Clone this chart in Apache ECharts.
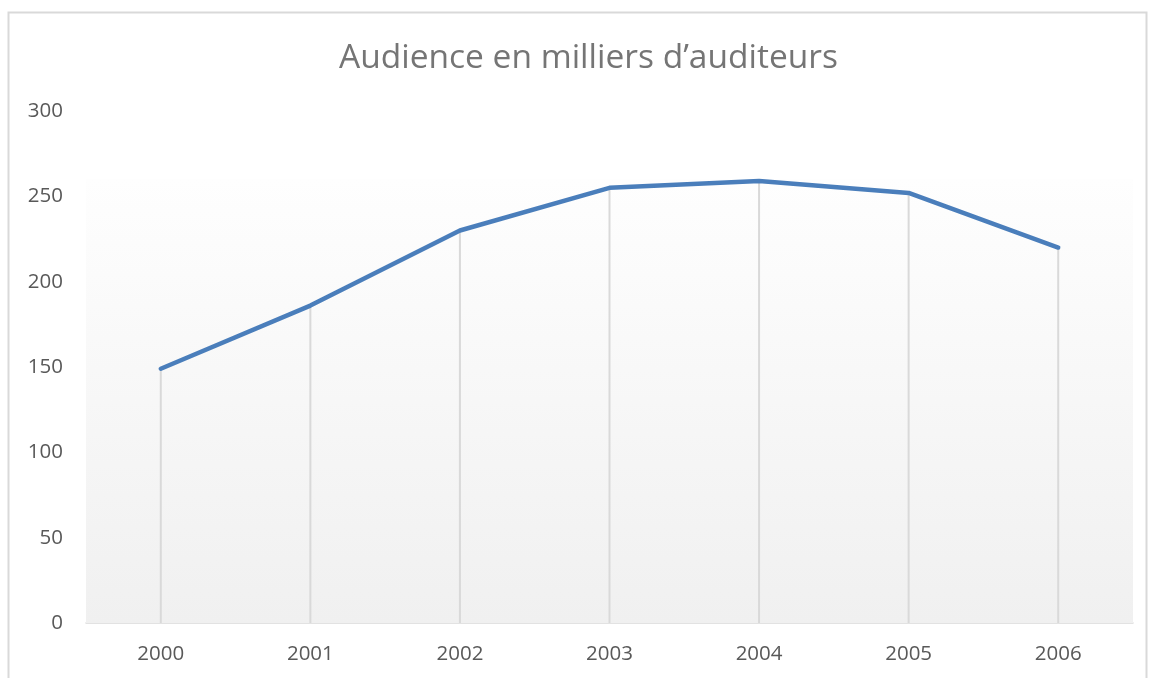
<!DOCTYPE html>
<html>
<head>
<meta charset="utf-8">
<script src="https://cdn.jsdelivr.net/npm/echarts@6/dist/echarts.min.js"></script>
<style>
  html, body { margin: 0; padding: 0; background: #fff; }
  #chart { width: 1149px; height: 678px; }
</style>
</head>
<body>
<div id="chart"></div>
<script>
var years = ['2000', '2001', '2002', '2003', '2004', '2005', '2006']
var audience = [149, 186, 230, 255, 259, 252, 220]
var yTicks = { min: 0, max: 300, interval: 50 }
var titleText = 'Audience en milliers d\u2019auditeurs'

var chart = echarts.init(document.getElementById('chart'))
chart.setOption({
  animation: false,
  textStyle: { fontFamily: 'Open Sans' },
  title: {
    text: titleText,
    left: 334,
    top: 36,
    textStyle: { fontSize: 33.5, fontWeight: 'normal', color: '#757575', fontFamily: 'Open Sans' }
  },
  graphic: [{
    type: 'rect',
    shape: { x: 8.5, y: 12.5, width: 1138, height: 700 },
    style: { fill: 'none', stroke: '#d9d9d9', lineWidth: 2 },
    silent: true
  }],
  grid: { left: 86, right: 16, top: 111, bottom: 55 },
  xAxis: {
    type: 'category',
    data: years,
    boundaryGap: true,
    axisLine: { lineStyle: { color: '#d9d9d9', width: 1.5 } },
    axisTick: { show: false },
    axisLabel: { color: '#595959', fontSize: 20.5, margin: 21 },
    splitLine: { show: false }
  },
  yAxis: {
    type: 'value',
    min: yTicks.min,
    max: yTicks.max,
    interval: yTicks.interval,
    axisLine: { show: false },
    axisTick: { show: false },
    axisLabel: { color: '#595959', fontSize: 20.5, margin: 23 },
    splitLine: { show: false }
  },
  series: [
    {
      // drop lines down to the axis
      type: 'bar',
      data: audience,
      barWidth: 2,
      itemStyle: { color: '#d9d9d9' },
      silent: true,
      z: 1,
      markArea: {
        silent: true,
        itemStyle: {
          color: new echarts.graphic.LinearGradient(0, 0, 0, 1, [
            { offset: 0, color: '#fefefe' },
            { offset: 1, color: '#f0f0f0' }
          ])
        },
        data: [[{ yAxis: 0 }, { yAxis: 260 }]]
      }
    },
    {
      type: 'line',
      data: audience,
      symbol: 'none',
      smooth: false,
      z: 3,
      lineStyle: { color: '#4a7ebb', width: 4.5, cap: 'round', join: 'round' }
    }
  ]
})
</script>
</body>
</html>
